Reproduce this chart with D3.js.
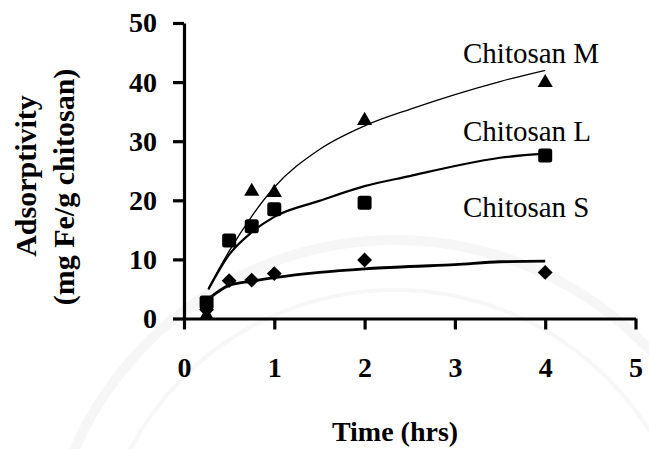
<!DOCTYPE html>
<html>
<head>
<meta charset="utf-8">
<script src="https://cdn.jsdelivr.net/npm/d3@7/dist/d3.min.js"></script>
<style>
  html, body { margin: 0; padding: 0; background: #fff; }
  svg { display: block; }
</style>
</head>
<body>
<svg id="chart" width="649" height="449"></svg>
<script>
// Measured adsorption (mg Fe / g chitosan) against contact time (hrs)
const timeM = [0.25, 0.75, 1, 2, 4];
const valuesM = [0.5, 21.5, 21.3, 33.5, 39.9];
const timeL = [0.25, 0.5, 0.75, 1, 2, 4];
const valuesL = [2.7, 13.2, 15.6, 18.5, 19.6, 27.6];
const timeS = [0.25, 0.5, 0.75, 1, 2, 4];
const valuesS = [1.5, 6.4, 6.5, 7.6, 9.9, 7.8];

// Trend curves drawn through the measurements
const fitTime = [0.27, 0.5, 0.75, 1, 1.5, 2, 2.5, 3, 3.5, 4];
const fitM = [5.1, 11.4, 17.3, 22.2, 28.6, 32.6, 35.4, 37.9, 40.1, 42.0];
const fitL = [4.9, 10.8, 14.6, 17.2, 19.9, 22.4, 24.1, 25.8, 27.2, 27.9];
const fitS = [3.3, 5.6, 6.3, 6.9, 7.8, 8.4, 8.8, 9.1, 9.6, 9.7];

const seriesNames = ["Chitosan M", "Chitosan L", "Chitosan S"];
const xTicks = [0, 1, 2, 3, 4, 5];
const yTicks = [0, 10, 20, 30, 40, 50];
const xTitle = "Time (hrs)";
const yTitle1 = "Adsorptivity";
const yTitle2 = "(mg Fe/g chitosan)";

const svg = d3.select("#chart");
const x = d3.scaleLinear().domain([0, 5]).range([184, 635.5]);
const y = d3.scaleLinear().domain([0, 50]).range([318.5, 23]);

// faint seal in the background
const seal = svg.append("g").attr("fill", "none");
seal.append("circle").attr("cx", 395).attr("cy", 590).attr("r", 350)
  .attr("stroke", "#f6f6f6").attr("stroke-width", 10);
seal.append("circle").attr("cx", 395).attr("cy", 590).attr("r", 300)
  .attr("stroke", "#f7f7f7").attr("stroke-width", 4);

const serif = "'Liberation Serif', 'Times New Roman', serif";

// Y axis
const yAxis = svg.append("g")
  .attr("transform", `translate(${x(0)},0)`)
  .call(d3.axisLeft(y).tickValues(yTicks).tickSize(11).tickSizeOuter(0).tickPadding(16));
yAxis.select(".domain").attr("stroke", "#000").attr("stroke-width", 3.2);
yAxis.selectAll(".tick line").attr("stroke", "#000").attr("stroke-width", 3.2);
yAxis.selectAll(".tick text")
  .attr("fill", "#000")
  .style("font-family", serif).style("font-weight", "bold").style("font-size", "28px");

// X axis
const xAxis = svg.append("g")
  .attr("transform", `translate(0,${y(0)})`)
  .call(d3.axisBottom(x).tickValues(xTicks).tickFormat(d3.format("d")).tickSize(11).tickSizeOuter(0));
xAxis.select(".domain").attr("stroke", "#000").attr("stroke-width", 3.2);
xAxis.selectAll(".tick line").attr("stroke", "#000").attr("stroke-width", 3.2);
xAxis.selectAll(".tick text")
  .attr("fill", "#000").attr("y", 58.5).attr("dy", 0)
  .style("font-family", serif).style("font-weight", "bold").style("font-size", "28px");

// Axis titles
svg.append("text")
  .attr("x", 395).attr("y", 441).attr("text-anchor", "middle")
  .style("font-family", serif).style("font-weight", "bold").style("font-size", "28px")
  .text(xTitle);
svg.append("text")
  .attr("transform", "translate(36,176) rotate(-90)").attr("text-anchor", "middle")
  .style("font-family", serif).style("font-weight", "bold").style("font-size", "30px")
  .text(yTitle1);
svg.append("text")
  .attr("transform", "translate(74,187) rotate(-90)").attr("text-anchor", "middle")
  .style("font-family", serif).style("font-weight", "bold").style("font-size", "30px")
  .text(yTitle2);

// Trend curves
const line = d3.line()
  .x(d => x(d[0])).y(d => y(d[1]))
  .curve(d3.curveMonotoneX);
const curves = [
  { t: fitTime, v: fitM, w: 1.3 },
  { t: fitTime, v: fitL, w: 2.2 },
  { t: fitTime, v: fitS, w: 2.8 }
];
curves.forEach(c => {
  svg.append("path")
    .datum(c.t.map((t, i) => [t, c.v[i]]))
    .attr("fill", "none").attr("stroke", "#000").attr("stroke-width", c.w)
    .attr("d", line);
});

// Markers
const triangle = d3.symbol().type(d3.symbolTriangle).size(100);
const diamond = d3.symbol().type(d3.symbolSquare).size(110);

svg.append("g").selectAll("path")
  .data(timeM.map((t, i) => [t, valuesM[i]]))
  .join("path")
  .attr("transform", d => `translate(${x(d[0])},${y(d[1])})`)
  .attr("d", triangle).attr("fill", "#000");

svg.append("g").selectAll("path")
  .data(timeS.map((t, i) => [t, valuesS[i]]))
  .join("path")
  .attr("transform", d => `translate(${x(d[0])},${y(d[1])}) rotate(45)`)
  .attr("d", diamond).attr("fill", "#000");

svg.append("g").selectAll("rect")
  .data(timeL.map((t, i) => [t, valuesL[i]]))
  .join("rect")
  .attr("x", d => x(d[0]) - 7).attr("y", d => y(d[1]) - 7)
  .attr("width", 14).attr("height", 14).attr("rx", 2.5)
  .attr("fill", "#000");

// Series labels
const labelY = [62.5, 140.5, 216.5];
svg.append("g").selectAll("text")
  .data(seriesNames)
  .join("text")
  .attr("x", 463).attr("y", (d, i) => labelY[i])
  .style("font-family", serif).style("font-size", "29px").attr("fill", "#000")
  .text(d => d);
</script>
</body>
</html>
